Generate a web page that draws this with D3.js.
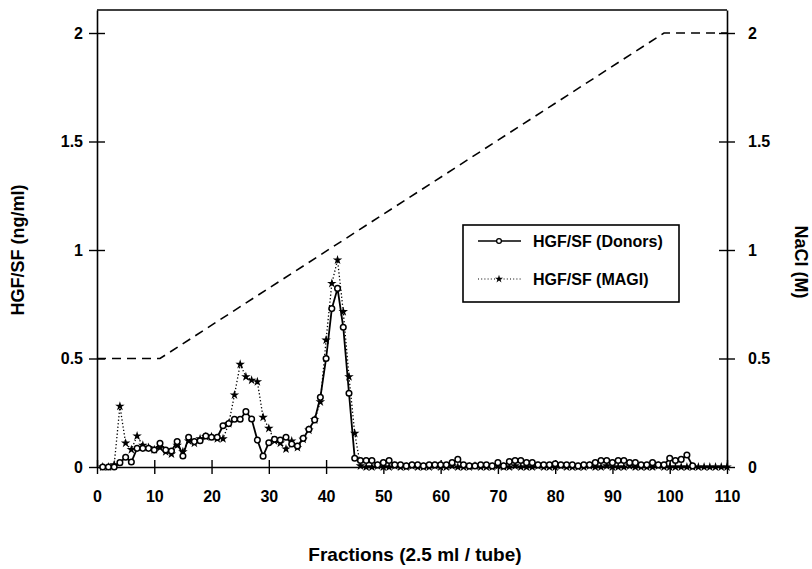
<!DOCTYPE html>
<html><head><meta charset="utf-8">
<script src="https://cdn.jsdelivr.net/npm/d3@7"></script>
<style>
body{margin:0;background:#fff;}
text{font-family:"Liberation Sans",Arial,sans-serif;}
</style></head>
<body><svg id="c" width="812" height="569"></svg>
<script>
const donorsFrac = d3.range(1, 105);
const donorsVal = [
 0,0,0,0.02,0.045,0.023,0.086,0.086,0.086,0.078,
 0.109,0.078,0.074,0.117,0.051,0.137,0.117,0.121,0.143,0.137,
 0.137,0.19,0.2,0.22,0.22,0.255,0.221,0.124,0.05,0.112,
 0.128,0.124,0.137,0.106,0.097,0.132,0.174,0.217,0.321,0.5,
 0.73,0.823,0.644,0.34,0.04,0.03,0.03,0.03,0.01,0.02,
 0.03,0.01,0.01,0.005,0.01,0.01,0.005,0.01,0.01,0.01,
 0.01,0.02,0.035,0.01,0.005,0.005,0.01,0.01,0.005,0.02,
 0.005,0.025,0.03,0.03,0.02,0.02,0.01,0.01,0.01,0.015,
 0.01,0.01,0.01,0.005,0.01,0.01,0.02,0.03,0.03,0.02,
 0.03,0.03,0.02,0.02,0.01,0.01,0.02,0.01,0.01,0.04,
 0.03,0.035,0.055,0.005
];
const magiFrac = d3.range(1, 111);
const magiVal = [
 0,0,0.01,0.28,0.11,0.08,0.143,0.1,0.09,0.08,
 0.09,0.07,0.06,0.1,0.07,0.12,0.11,0.13,0.14,0.14,
 0.13,0.13,0.2,0.332,0.473,0.416,0.4,0.393,0.229,0.178,
 0.12,0.11,0.083,0.12,0.09,0.128,0.17,0.217,0.3,0.585,
 0.846,0.954,0.716,0.416,0.155,0.005,0,0,0.005,0,
 0,0.005,0,0,0.005,0,0,0,0.005,0,
 0,0.005,0,0,0,0.005,0,0,0,0.005,
 0,0,0.005,0,0,0,0.005,0,0,0,
 0.005,0,0,0,0,0.005,0,0,0.005,0,
 0,0,0.005,0,0,0,0,0.005,0,0,
 0,0,0,0,0,0,0,0,0,0
];
const naclFrac = [0, 11, 99, 110];
const naclVal = [0.5, 0.5, 2.0, 2.0];
const xTicks = [0,10,20,30,40,50,60,70,80,90,100,110];
const yTicks = [0,0.5,1,1.5,2];
const yTickLabels = ["0","0.5","1","1.5","2"];
const seriesNames = ["HGF/SF (Donors)","HGF/SF (MAGI)"];

const svg = d3.select("#c");
const L=97, R=727, T=10, B=467;
const x = d3.scaleLinear().domain([0,110]).range([L,R]);
const y = d3.scaleLinear().domain([0,2.106]).range([B,T]);
const yr = d3.scaleLinear().domain([0,2.106]).range([B,T]);

svg.append("line").attr("x1",L).attr("x2",R).attr("y1",T).attr("y2",T)
  .attr("stroke","#000").attr("stroke-width",1.6);

const fmt = d=>yTickLabels[yTicks.indexOf(d)];

const gl = svg.append("g").attr("transform",`translate(${L},0)`)
  .call(d3.axisLeft(y).tickValues(yTicks).tickFormat(fmt).tickSize(8).tickSizeOuter(0).tickPadding(6));
gl.selectAll(".tick line").attr("x1",-8).attr("x2",8);

const gr = svg.append("g").attr("transform",`translate(${R},0)`)
  .call(d3.axisRight(yr).tickValues(yTicks).tickFormat(fmt).tickSize(8).tickSizeOuter(0).tickPadding(13));
gr.selectAll(".tick line").attr("x1",-8).attr("x2",8);

const gx = svg.append("g").attr("transform",`translate(0,${y(0)})`)
  .call(d3.axisBottom(x).tickValues(xTicks).tickSize(7).tickSizeOuter(0).tickPadding(17));
gx.selectAll(".tick line").attr("y1",-7).attr("y2",7);

svg.selectAll(".domain").attr("stroke","#000").attr("stroke-width",1.6);
svg.selectAll(".tick line").attr("stroke","#000").attr("stroke-width",1.4);
svg.selectAll(".tick text").attr("font-size",16).attr("font-weight","bold").attr("fill","#000")
  .attr("font-family","'Liberation Sans',Arial,sans-serif");

// NaCl dashed
const naclData = naclFrac.map((f,i)=>[f,naclVal[i]]);
svg.append("path").datum(naclData)
  .attr("d",d3.line().x(d=>x(d[0])).y(d=>yr(d[1])))
  .attr("fill","none").attr("stroke","#000").attr("stroke-width",1.6).attr("stroke-dasharray","9,6");

// MAGI dotted
const magi = magiFrac.map((f,i)=>[f,magiVal[i]]);
svg.append("path").datum(magi)
  .attr("d",d3.line().x(d=>x(d[0])).y(d=>y(d[1])))
  .attr("fill","none").attr("stroke","#000").attr("stroke-width",1.3).attr("stroke-dasharray","1.3,2.2");
const star = d3.symbol().type(d3.symbolStar).size(28);
svg.append("g").selectAll("path").data(magi).join("path")
  .attr("d",star).attr("transform",d=>`translate(${x(d[0])},${y(d[1])})`).attr("fill","#000");

// Donors solid
const donors = donorsFrac.map((f,i)=>[f,donorsVal[i]]);
svg.append("path").datum(donors)
  .attr("d",d3.line().x(d=>x(d[0])).y(d=>y(d[1])))
  .attr("fill","none").attr("stroke","#000").attr("stroke-width",1.8);
svg.append("g").selectAll("circle").data(donors).join("circle")
  .attr("cx",d=>x(d[0])).attr("cy",d=>y(d[1])).attr("r",2.8)
  .attr("fill","#fff").attr("stroke","#000").attr("stroke-width",1.5);

// legend
const lg = svg.append("g");
lg.append("rect").attr("x",463).attr("y",225).attr("width",216).attr("height",77)
  .attr("fill","#fff").attr("stroke","#000").attr("stroke-width",1.6);
lg.append("line").attr("x1",478).attr("x2",521).attr("y1",241).attr("y2",241)
  .attr("stroke","#000").attr("stroke-width",1.3);
lg.append("circle").attr("cx",499).attr("cy",241).attr("r",2.4)
  .attr("fill","#fff").attr("stroke","#000").attr("stroke-width",1.3);
lg.append("line").attr("x1",478).attr("x2",521).attr("y1",279).attr("y2",279)
  .attr("stroke","#000").attr("stroke-width",1.1).attr("stroke-dasharray","1,2.2");
lg.append("path").attr("d",d3.symbol().type(d3.symbolStar).size(20))
  .attr("transform","translate(499,279)").attr("fill","#000");
lg.selectAll("text").data(seriesNames).join("text")
  .attr("x",533).attr("y",(d,i)=>241+i*38).attr("dy","0.36em")
  .attr("font-size",16).attr("font-weight","bold").text(d=>d);

// titles
svg.append("text").attr("x",415).attr("y",561).attr("text-anchor","middle")
  .attr("font-size",19).attr("font-weight","bold").text("Fractions (2.5 ml / tube)");
svg.append("text").attr("transform","translate(24,250) rotate(-90)").attr("text-anchor","middle")
  .attr("font-size",18).attr("font-weight","bold").text("HGF/SF (ng/ml)");
svg.append("text").attr("transform","translate(795,262) rotate(90)").attr("text-anchor","middle")
  .attr("font-size",18).attr("font-weight","bold").text("NaCl (M)");
</script></body></html>
